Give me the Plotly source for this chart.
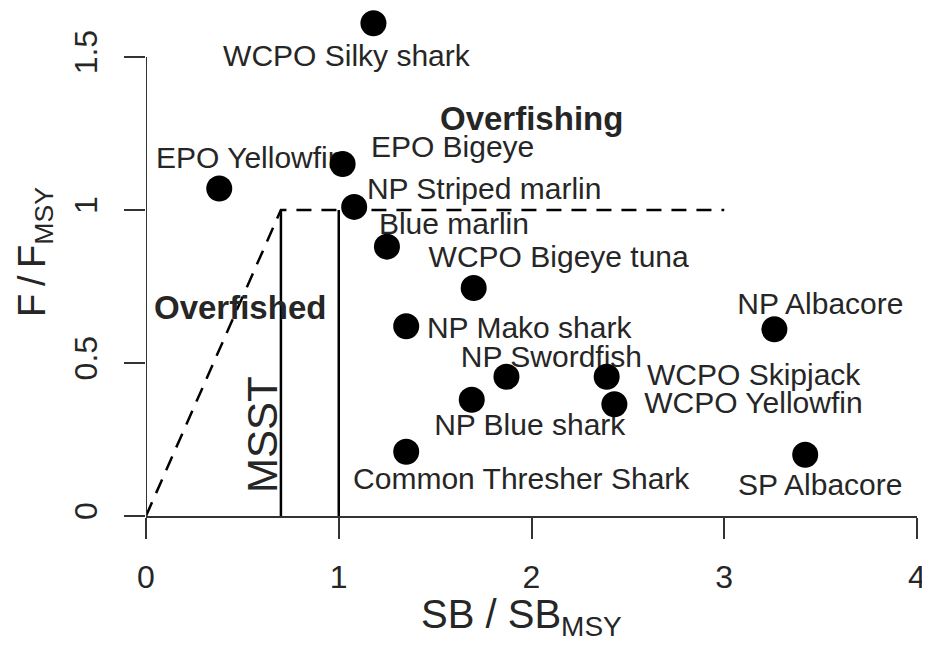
import plotly.graph_objects as go

# ---- data ----
stocks = ["WCPO Silky shark", "EPO Yellowfin", "EPO Bigeye", "NP Striped marlin",
          "Blue marlin", "WCPO Bigeye tuna", "NP Albacore", "NP Mako shark",
          "NP Swordfish", "WCPO Skipjack", "NP Blue shark", "WCPO Yellowfin",
          "Common Thresher Shark", "SP Albacore"]
sb_ratio = [1.18, 0.38, 1.02, 1.08, 1.25, 1.70, 3.26, 1.35, 1.87, 2.39, 1.69, 2.43, 1.35, 3.42]
f_ratio = [1.61, 1.07, 1.15, 1.01, 0.88, 0.745, 0.61, 0.62, 0.455, 0.455, 0.38, 0.365, 0.21, 0.20]

# label offsets from the point (pixels, right / down)
label_dx = [-27, 31, 110, 130, 67, 85, 46, 123, 45, 147, 58, 139, 115, 15]
label_dy = [35, -28, -15, -15, -20, -28, -23, 4, -17, 1, 28, 1, 30, 33]

x_ticks = [0, 1, 2, 3, 4]
y_ticks = [0, 0.5, 1, 1.5]
x_range = [0, 4]
y_range = [0, 1.65]

msst = 0.7
f_limit = 1.0
b_msy = 1.0
f_line_end = 3.0

# ---- layout geometry (page body adds an 8px offset) ----
W, H = 922, 641
ML, MR, MT, MB = 138, 13, 3, 133
px_x = (W - ML - MR) / (x_range[1] - x_range[0])
px_y = (H - MT - MB) / (y_range[1] - y_range[0])

FONT = "Arial, Liberation Sans, sans-serif"
TXT = "#262626"

fig = go.Figure()

# labels (drawn first so points sit on top)
fig.add_trace(go.Scatter(
    x=[x + dx / px_x for x, dx in zip(sb_ratio, label_dx)],
    y=[y - dy / px_y for y, dy in zip(f_ratio, label_dy)],
    mode="text", text=stocks, textposition="middle center",
    textfont=dict(family=FONT, size=30, color=TXT),
    hoverinfo="skip", showlegend=False, cliponaxis=False))

# control rule lines
fig.add_trace(go.Scatter(x=[0, msst, f_line_end], y=[0, f_limit, f_limit], mode="lines",
                         line=dict(color="black", width=2.5, dash="15px,10px"),
                         showlegend=False, hoverinfo="skip"))
for xv in [msst, b_msy]:
    fig.add_trace(go.Scatter(x=[xv, xv], y=[0, f_limit], mode="lines",
                             line=dict(color="black", width=2.5),
                             showlegend=False, hoverinfo="skip"))

# points
fig.add_trace(go.Scatter(x=sb_ratio, y=f_ratio, mode="markers",
                         marker=dict(color="black", size=26, symbol="circle"),
                         showlegend=False, cliponaxis=False))

# y axis line (only spanning tick range, R style)
fig.add_shape(type="line", xref="x", yref="y", x0=0, x1=0, y0=y_ticks[0], y1=y_ticks[-1],
              line=dict(color="#333333", width=2))

fig.add_annotation(x=2.0, y=1.30, text="<b>Overfishing</b>", showarrow=False,
                   font=dict(family=FONT, size=33, color=TXT))
fig.add_annotation(x=0.49, y=0.68, text="<b>Overfished</b>", showarrow=False,
                   font=dict(family=FONT, size=33, color=TXT))
fig.add_annotation(x=0.607, y=0.265, text="MSST", showarrow=False, textangle=-90,
                   font=dict(family=FONT, size=42, color=TXT))

# axis titles (R-style placement)
fig.add_annotation(xref="paper", yref="paper", x=0.5, y=0, yanchor="middle",
                   xshift=-10, yshift=-101, text="SB / SB<sub>MSY</sub>", showarrow=False,
                   font=dict(family=FONT, size=40, color=TXT))
fig.add_annotation(xref="paper", yref="paper", x=0, y=0.523, xanchor="center",
                   xshift=-111, text="F\u2009/\u2009F<sub>MSY</sub>", showarrow=False,
                   textangle=-90, font=dict(family=FONT, size=38, color=TXT))

fig.update_layout(
    width=W, height=H,
    margin=dict(l=ML, r=MR, t=MT, b=MB, autoexpand=False),
    paper_bgcolor="white", plot_bgcolor="white",
    font=dict(family=FONT, color=TXT),
    xaxis=dict(range=x_range, tickvals=x_ticks, ticktext=[str(v) for v in x_ticks],
               ticks="outside", ticklen=21, tickwidth=2, tickcolor="#333333",
               showline=True, linecolor="#333333", linewidth=2,
               showgrid=False, zeroline=False, automargin=False,
               tickfont=dict(size=32, color=TXT), ticklabelstandoff=11),
    yaxis=dict(range=y_range, tickvals=y_ticks, ticktext=["0", "0.5", "1", "1.5"],
               ticks="outside", ticklen=21, tickwidth=2, tickcolor="#333333",
               showline=False, showgrid=False, zeroline=False, tickangle=-90,
               automargin=False,
               tickfont=dict(size=32, color=TXT), ticklabelstandoff=14),
)

fig.write_html("out.html")
